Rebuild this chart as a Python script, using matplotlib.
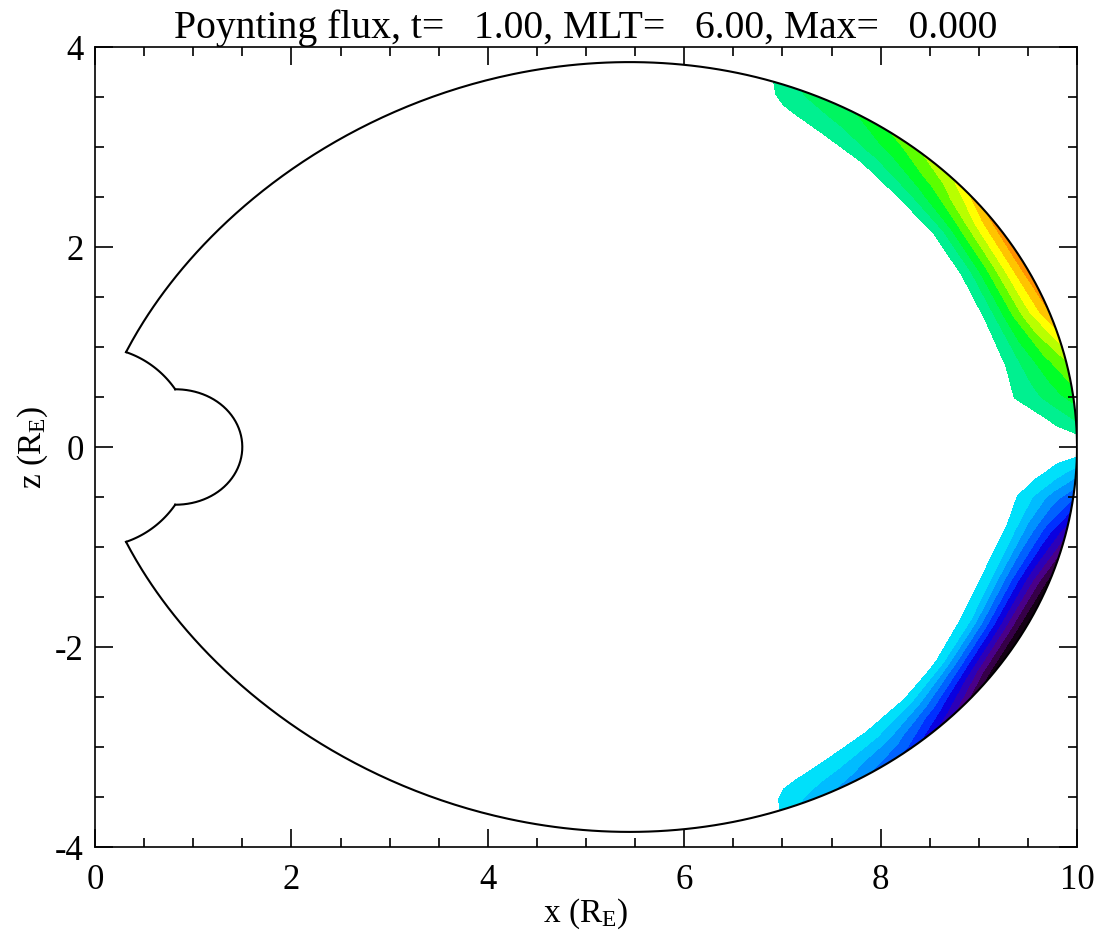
import numpy as np
import matplotlib
matplotlib.use("Agg")
import matplotlib.pyplot as plt

plt.rcParams['font.family'] = ['Liberation Serif', 'DejaVu Serif']
plt.rcParams['mathtext.fontset'] = 'custom'
plt.rcParams['mathtext.rm'] = 'Liberation Serif'
plt.rcParams['mathtext.it'] = 'Liberation Serif:italic'
plt.rcParams['axes.unicode_minus'] = False

# boundaries (Earth radii)
L_outer = 10.0     # outer field line
L_inner = 1.5      # inner field line bump
r_earth = 1.0

# Poynting flux, on a dipole grid (latitude x L-shell)
lat_deg = [-30, -28, -26, -23, -20, -17, -14, -11, -8, -5, -3, -1.5, 0,
           1.5, 3, 5, 8, 11, 14, 17, 20, 23, 26, 28, 30]
L_shell = [9.2, 9.4, 9.6, 9.8, 10.0]
flux = [
    [0, 0, 0, 0, 0],
    [0, 0, 0, -0.03, -0.06],
    [0, -0.02, -0.08, -0.15, -0.23],
    [0, -0.05, -0.14, -0.25, -0.37],
    [0, -0.06, -0.20, -0.36, -0.53],
    [0, -0.07, -0.30, -0.55, -0.80],
    [0, -0.11, -0.43, -0.75, -1.06],
    [0, -0.16, -0.48, -0.80, -1.12],
    [0, -0.18, -0.47, -0.76, -1.05],
    [0, -0.11, -0.33, -0.55, -0.78],
    [0, -0.08, -0.21, -0.36, -0.50],
    [0, 0, -0.06, -0.15, -0.26],
    [0, 0, 0, 0, 0],
    [0, 0, 0.05, 0.12, 0.20],
    [0, 0.10, 0.17, 0.26, 0.35],
    [0, 0.11, 0.24, 0.37, 0.50],
    [0, 0.15, 0.37, 0.59, 0.80],
    [0, 0.15, 0.39, 0.63, 0.87],
    [0, 0.13, 0.36, 0.59, 0.82],
    [0, 0.13, 0.29, 0.44, 0.60],
    [0, 0.09, 0.21, 0.33, 0.45],
    [0, 0.06, 0.15, 0.23, 0.31],
    [0, 0.02, 0.08, 0.15, 0.22],
    [0, 0, 0.02, 0.05, 0.09],
    [0, 0, 0, 0, 0],
]

neg_levels = [-1.5, -1.0, -0.9, -0.8, -0.7, -0.6, -0.5, -0.4, -0.3, -0.2, -0.1]
neg_colors = ['#140014', '#360048', '#4a0088', '#2c00b8', '#0a00e0',
              '#0030ff', '#0062ff', '#0092ff', '#00bcff', '#00e0fa']
pos_levels = [0.1, 0.2, 0.3, 0.4, 0.5, 0.6, 0.7, 0.8, 0.9, 1.5]
pos_colors = ['#00f090', '#00f560', '#00ff28', '#5cff00', '#b8ff00',
              '#ffff00', '#ffc400', '#ff9000', '#ff5c00']

title = "Poynting flux, t=   1.00, MLT=   6.00, Max=   0.000"

# dipole grid -> x, z
lam = np.radians(np.array(lat_deg))[:, None]
LL = np.array(L_shell)[None, :]
X = LL * np.cos(lam)**3
Z = LL * np.cos(lam)**2 * np.sin(lam)
F = np.array(flux)

fig = plt.figure(figsize=(10.99, 9.30), dpi=100)
ax = fig.add_axes([95/1099, 1 - 847/930, 982/1099, 800/930])

ax.contourf(X, Z, F, levels=neg_levels, colors=neg_colors)
ax.contourf(X, Z, F, levels=pos_levels, colors=pos_colors)

# outer field line, from the Earth's surface to the Earth's surface
lam0 = np.arccos(np.sqrt(r_earth / L_outer))
t = np.linspace(-lam0, lam0, 600)
ax.plot(L_outer*np.cos(t)**3, L_outer*np.cos(t)**2*np.sin(t), color='black', lw=1.5)

# inner boundary: Earth's surface + L=1.5 field line
lam1 = np.arccos(np.sqrt(r_earth / L_inner))
t = np.linspace(lam1, lam0, 100)
for s in (1, -1):
    ax.plot(r_earth*np.cos(t), s*r_earth*np.sin(t), color='black', lw=1.5)
t = np.linspace(-lam1, lam1, 200)
ax.plot(L_inner*np.cos(t)**3, L_inner*np.cos(t)**2*np.sin(t), color='black', lw=1.5)

ax.set_xlim(0, 10)
ax.set_ylim(-4, 4)
ax.set_xticks(np.arange(0, 11, 2))
ax.set_yticks(np.arange(-4, 5, 2))
ax.set_xticks(np.arange(0, 10.01, 0.5), minor=True)
ax.set_yticks(np.arange(-4, 4.01, 0.5), minor=True)
ax.tick_params(which='both', direction='in', top=True, right=True, width=1.2,
               labelsize=25)
ax.tick_params(axis='x', pad=12)
ax.tick_params(axis='y', pad=8)
ax.tick_params(which='major', length=13)
ax.tick_params(which='minor', length=6.5)
for sp in ax.spines.values():
    sp.set_linewidth(1.2)

ax.set_xlabel(r"x (R$_\mathrm{E}$)", fontsize=24, labelpad=0)
ax.set_ylabel(r"z (R$_\mathrm{E}$)", fontsize=24, labelpad=4)
ax.set_title(title, fontsize=28.5, pad=5)

fig.savefig("out.png", dpi=100)
